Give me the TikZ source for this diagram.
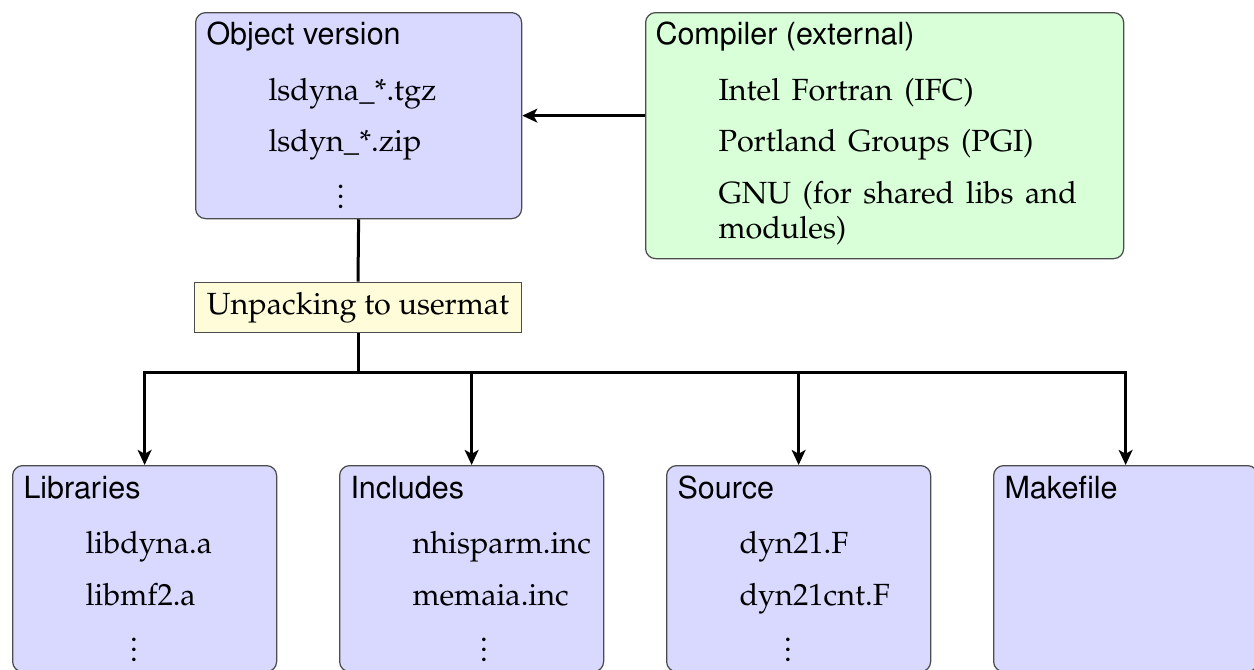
\documentclass[tikz,border=0pt]{standalone}
\usepackage[T1]{fontenc}
\usepackage{mathpazo}
\usepackage{helvet}
\usetikzlibrary{arrows.meta}
\newcommand{\widespaces}{\spaceskip=4.6pt plus 1pt\relax}
\tikzset{
  filebox/.style={draw=black!70, line width=0.5pt, fill=blue!15, rounded corners=4pt,
    minimum width=105.6pt, minimum height=82.4pt, anchor=north west, inner sep=0pt},
  boxtitle/.style={anchor=base west, inner sep=0pt, font=\fontsize{12.2}{14}\sffamily},
  boxitem/.style={anchor=base west, inner sep=0pt, align=left},
  boxdots/.style={anchor=base, inner sep=0pt},
  link/.style={line width=1.2pt},
  tip/.style={-{Stealth[length=6pt,width=5.5pt,inset=1.5pt]}}
}

\begin{document}
\begin{tikzpicture}[x=0.4pt,y=0.4pt,font=\fontsize{12.25}{14}\selectfont]
\useasboundingbox (0,0) rectangle (1254,669);
% top row
\node[filebox, minimum width=130.4pt] (objver) at (195,657) {};
\node[boxtitle] (objver-t) at (206,625) {Object version};
\node[boxitem] (objver-1) at (268,569) {lsdyna\_*.tgz};
\node[boxitem] (objver-2) at (268,517.3) {lsdyn\_*.zip};
\node[boxdots] (objver-d) at (340.7,460.5) {\vdots};
\node[filebox, fill=green!15, minimum width=191.2pt, minimum height=98.4pt] (compiler) at (645,657) {};
\node[boxtitle] (compiler-t) at (655,625) {Compiler (external)};
\node[boxitem] (compiler-1) at (718,569) {\widespaces Intel Fortran (IFC)};
\node[boxitem] (compiler-2) at (718,517.3) {\widespaces Portland Groups (PGI)};
\node[boxitem] (compiler-3) at (718,431) {\widespaces GNU (for shared libs and\\modules)};
\node[draw=black!70, line width=0.5pt, fill=yellow!15, minimum width=130.8pt, minimum height=20pt,
  inner sep=0pt] (unpack) at (358,361.7) {Unpacking to usermat};
% bottom row
\node[filebox] (libs) at (12,204) {};
\node[boxtitle] (libs-t) at (23,171) {Libraries};
\node[boxitem] (libs-1) at (85,116) {libdyna.a};
\node[boxitem] (libs-2) at (85,64) {libmf2.a};
\node[boxdots] (libs-d) at (134,7.5) {\vdots};
\node[filebox] (incl) at (339,204) {};
\node[boxtitle] (incl-t) at (350,171) {Includes};
\node[boxitem] (incl-1) at (412,116) {nhisparm.inc};
\node[boxitem] (incl-2) at (412,64) {memaia.inc};
\node[boxdots] (incl-d) at (484,7.5) {\vdots};
\node[filebox] (src) at (666,204) {};
\node[boxtitle] (src-t) at (677,171) {Source};
\node[boxitem] (src-1) at (739,116) {dyn21.F};
\node[boxitem] (src-2) at (739,64) {dyn21cnt.F};
\node[boxdots] (src-d) at (788,7.5) {\vdots};
\node[filebox] (make) at (993,204) {};
\node[boxtitle] (make-t) at (1004,171) {Makefile};
% connectors
\coordinate (split) at (358,297);
\draw[link] (objver.south) -- (unpack.north);
\draw[link] (unpack.south) -- (split);
\draw[link, tip] (split) -| (libs.north);
\draw[link, tip] (split) -| (incl.north);
\draw[link, tip] (split) -| (src.north);
\draw[link, tip] (split) -| (make.north);
\draw[link, tip] (compiler.west |- objver.east) -- (objver.east);
\end{tikzpicture}
\end{document}
